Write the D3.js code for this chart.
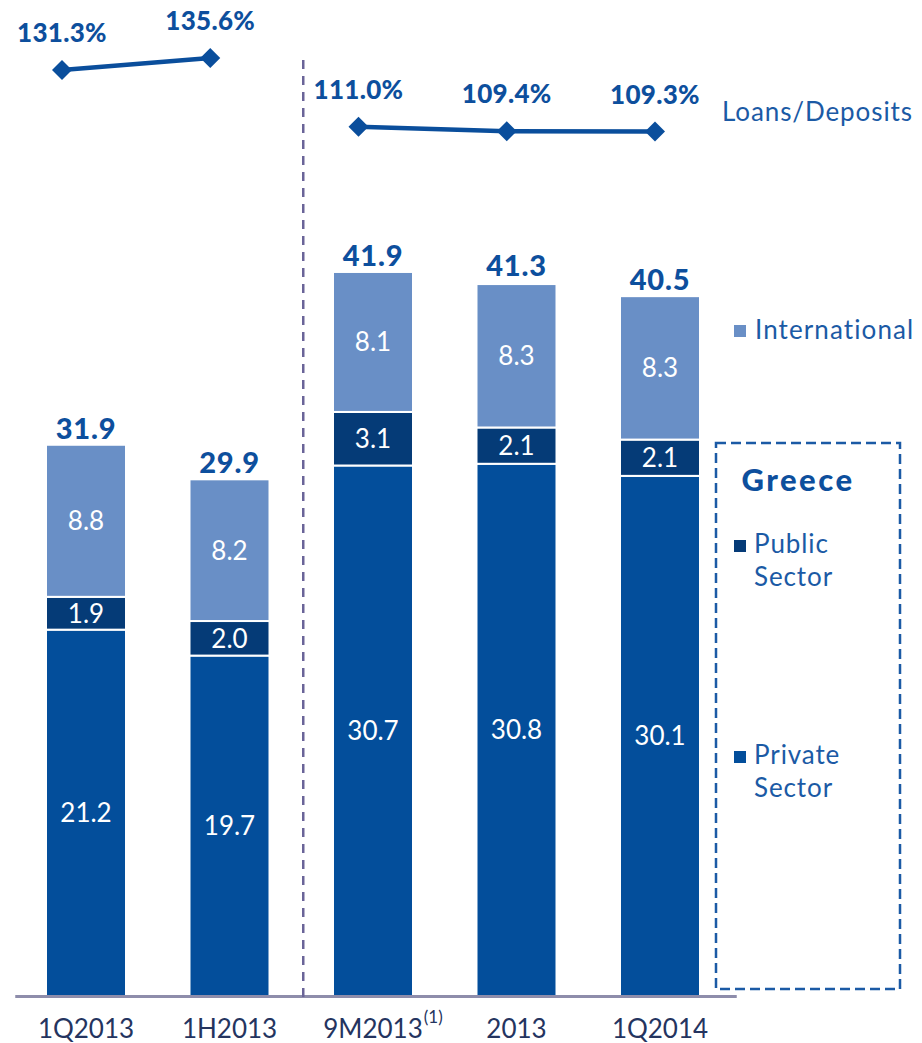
<!DOCTYPE html>
<html>
<head>
<meta charset="utf-8">
<script src="https://cdn.jsdelivr.net/npm/d3@7"></script>
<style>
  html, body { margin: 0; padding: 0; background: #ffffff; }
  svg { display: block; font-family: "Lato", "DejaVu Sans", sans-serif; }
</style>
</head>
<body>
<svg id="chart" width="922" height="1043"></svg>
<script>
// Deposits by period (EUR bn) and loans-to-deposits ratio
const categories = ["1Q2013", "1H2013", "9M2013", "2013", "1Q2014"];
const privateSector = [21.2, 19.7, 30.7, 30.8, 30.1];
const publicSector = [1.9, 2.0, 3.1, 2.1, 2.1];
const international = [8.8, 8.2, 8.1, 8.3, 8.3];
const totals = [31.9, 29.9, 41.9, 41.3, 40.5];
const loansToDeposits = [131.3, 135.6, 111.0, 109.4, 109.3];
const ratioGroups = [[0, 1], [2, 3, 4]];
const footnotes = { "9M2013": "(1)" };

const seriesKeys = ["private", "public", "international"];
const colors = {
  private: "#034e9b",
  public: "#053b77",
  international: "#698fc6"
};
const lineColor = "#0a4e9c";
const labelBlue = "#0d4f9d";
const legendBlue = "#1b5aa5";
const axisColor = "#8e8dab";
const tickColor = "#24345f";

const svg = d3.select("#chart");

const baseline = 996;
const x = d3.scaleBand()
  .domain(categories)
  .range([14.25, 731.75])
  .paddingInner(0.4425)
  .paddingOuter(0.2213);

const y = d3.scaleLinear().domain([0, 45]).range([baseline, baseline - 45 * 17.28]);

// Stacked bar data
const rows = categories.map((c, i) => ({
  category: c,
  private: privateSector[i],
  public: publicSector[i],
  international: international[i]
}));
const stacked = d3.stack().keys(seriesKeys)(rows);

const barsG = svg.append("g");
stacked.forEach(layer => {
  const key = layer.key;
  barsG.selectAll(null)
    .data(layer)
    .join("rect")
    .attr("x", d => x(d.data.category))
    .attr("y", d => y(d[1]))
    .attr("width", x.bandwidth())
    .attr("height", d => y(d[0]) - y(d[1]))
    .attr("fill", colors[key])
    .attr("stroke", "#ffffff")
    .attr("stroke-width", 2);

  barsG.selectAll(null)
    .data(layer)
    .join("text")
    .attr("x", d => x(d.data.category) + x.bandwidth() / 2)
    .attr("y", d => (y(d[0]) + y(d[1])) / 2)
    .attr("dy", "0.36em")
    .attr("text-anchor", "middle")
    .attr("fill", "#ffffff")
    .attr("font-size", 26)
    .text(d => d.data[key].toFixed(1));
});

// Totals above bars
svg.append("g").selectAll("text")
  .data(categories)
  .join("text")
  .attr("x", c => x(c) + x.bandwidth() / 2)
  .attr("y", (c, i) => y(totals[i]) - 6)
  .attr("text-anchor", "middle")
  .attr("fill", labelBlue)
  .attr("font-size", 29)
  .attr("font-weight", 900)
  .attr("letter-spacing", 0.8)
  .text((c, i) => totals[i].toFixed(1));

// Baseline axis
const xAxis = d3.axisBottom(x).tickSize(0).tickPadding(24);
const axisG = svg.append("g")
  .attr("transform", `translate(0,${baseline})`)
  .call(xAxis);
axisG.select(".domain").remove();
axisG.selectAll(".tick text")
  .attr("font-family", "Lato, 'DejaVu Sans', sans-serif")
  .attr("font-size", 26)
  .attr("fill", tickColor)
  .attr("dy", "0.71em");
axisG.selectAll(".tick").each(function (c) {
  const note = footnotes[c];
  if (!note) return;
  const t = d3.select(this).select("text");
  const w = t.node().getComputedTextLength();
  d3.select(this).append("text")
    .attr("x", w / 2 + 1)
    .attr("y", 24)
    .attr("dy", "0.15em")
    .attr("font-family", "Lato, 'DejaVu Sans', sans-serif")
    .attr("font-size", 17)
    .attr("fill", tickColor)
    .attr("text-anchor", "start")
    .text(note);
});
svg.append("line")
  .attr("x1", x.range()[0] + 1)
  .attr("x2", x.range()[1] + 5)
  .attr("y1", baseline + 0.5)
  .attr("y2", baseline + 0.5)
  .attr("stroke", axisColor)
  .attr("stroke-width", 3);

// Period separator
const sepX = (x(categories[1]) + x(categories[2]) + x.bandwidth()) / 2 + 2;
svg.append("line")
  .attr("x1", sepX).attr("x2", sepX)
  .attr("y1", 60).attr("y2", baseline + 8)
  .attr("stroke", "#6a6498")
  .attr("stroke-width", 2.5)
  .attr("stroke-dasharray", "9,7");

// Loans / deposits ratio line
const xl = d3.scalePoint().domain(categories).range([62, 655]);
const yl = d3.scaleLinear().domain([109.3, 135.6]).range([131.6, 58]);
const lineGen = d3.line()
  .x(i => xl(categories[i]))
  .y(i => yl(loansToDeposits[i]));

const ratioG = svg.append("g");
ratioG.selectAll("path.ratio")
  .data(ratioGroups)
  .join("path")
  .attr("class", "ratio")
  .attr("d", lineGen)
  .attr("fill", "none")
  .attr("stroke", lineColor)
  .attr("stroke-width", 4.5);

ratioG.selectAll("path.marker")
  .data(categories)
  .join("path")
  .attr("class", "marker")
  .attr("d", d3.symbol(d3.symbolSquare, 200))
  .attr("transform", (c, i) => `translate(${xl(c)},${yl(loansToDeposits[i])}) rotate(45)`)
  .attr("fill", lineColor);

ratioG.selectAll("text")
  .data(categories)
  .join("text")
  .attr("x", c => xl(c))
  .attr("y", (c, i) => yl(loansToDeposits[i]) - 28)
  .attr("text-anchor", "middle")
  .attr("fill", labelBlue)
  .attr("font-size", 26)
  .attr("font-weight", 900)
  .attr("letter-spacing", 0.3)
  .text((c, i) => loansToDeposits[i].toFixed(1) + "%");

// Legend
const legend = svg.append("g");
legend.append("text")
  .attr("x", 722).attr("y", 121)
  .attr("fill", legendBlue)
  .attr("font-size", 26)
  .attr("letter-spacing", 0.9)
  .text("Loans/Deposits");

legend.append("rect")
  .attr("x", 734).attr("y", 325).attr("width", 12).attr("height", 12)
  .attr("fill", colors.international);
legend.append("text")
  .attr("x", 755).attr("y", 339)
  .attr("fill", legendBlue)
  .attr("font-size", 26)
  .attr("letter-spacing", 1.1)
  .text("International");

legend.append("rect")
  .attr("x", 716).attr("y", 443)
  .attr("width", 184).attr("height", 546)
  .attr("fill", "none")
  .attr("stroke", legendBlue)
  .attr("stroke-width", 2.5)
  .attr("stroke-dasharray", "10,5");

legend.append("text")
  .attr("x", 798).attr("y", 491)
  .attr("text-anchor", "middle")
  .attr("fill", labelBlue)
  .attr("font-size", 31)
  .attr("font-weight", 900)
  .attr("letter-spacing", 2.5)
  .text("Greece");

const greeceItems = [
  { key: "public", lines: ["Public", "Sector"], top: 540 },
  { key: "private", lines: ["Private", "Sector"], top: 751 }
];
greeceItems.forEach(item => {
  legend.append("rect")
    .attr("x", 734).attr("y", item.top).attr("width", 12).attr("height", 12)
    .attr("fill", colors[item.key]);
  const t = legend.append("text")
    .attr("fill", legendBlue)
    .attr("font-size", 26)
    .attr("letter-spacing", 0.9);
  item.lines.forEach((s, k) => {
    t.append("tspan")
      .attr("x", 754)
      .attr("y", item.top + 13 + k * 33)
      .text(s);
  });
});
</script>
</body>
</html>
